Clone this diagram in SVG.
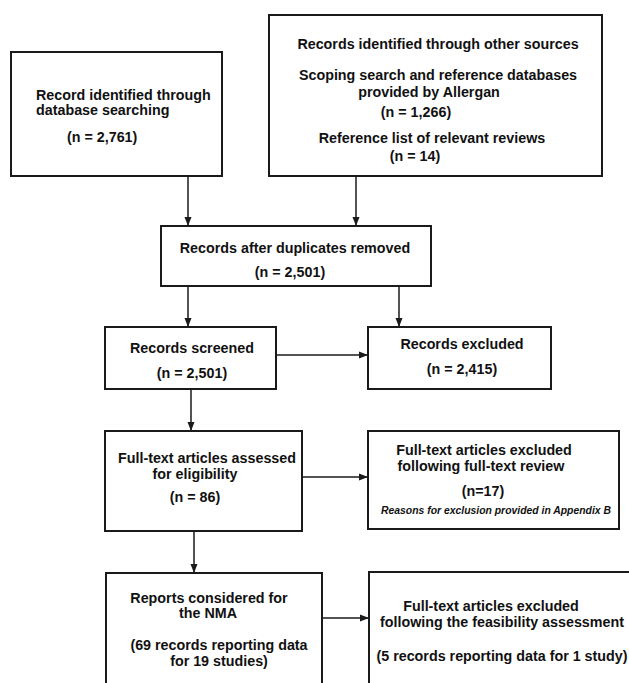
<svg xmlns="http://www.w3.org/2000/svg" width="629" height="683" viewBox="0 0 629 683">
<style>
.box{fill:#fff;stroke:#1a1a1a;stroke-width:2}
text{font-family:"Liberation Sans",Arial,sans-serif;font-size:14.3px;font-weight:bold;fill:#111}
.note{font-size:10.4px;font-style:italic}
.c{text-anchor:middle}
.ln{stroke:#1a1a1a;stroke-width:1.5;fill:none;marker-end:url(#ah)}
</style>
<defs>
<marker id="ah" markerWidth="10" markerHeight="8" refX="9" refY="4" orient="auto" markerUnits="userSpaceOnUse">
<path d="M0,0.5 L9,4 L0,7.5 Z" fill="#1a1a1a"/>
</marker>
</defs>
<rect width="629" height="683" fill="#fff"/>
<g id="connectors">
<line class="ln" x1="188" y1="176" x2="188" y2="226"/>
<line class="ln" x1="356" y1="176" x2="356" y2="226"/>
<line class="ln" x1="188" y1="286" x2="188" y2="327"/>
<line class="ln" x1="399" y1="286" x2="399" y2="327"/>
<line class="ln" x1="276" y1="355" x2="368" y2="355"/>
<line class="ln" x1="191" y1="389" x2="191" y2="431"/>
<line class="ln" x1="302" y1="477" x2="368" y2="477"/>
<line class="ln" x1="194" y1="531" x2="194" y2="573"/>
<line class="ln" x1="322" y1="618" x2="369" y2="618"/>
</g>
<g id="db">
<rect class="box" x="11" y="52" width="211" height="124"/>
<text x="36" y="100">Record identified through</text>
<text x="36" y="115">database searching</text>
<text x="67" y="142">(n = 2,761)</text>
</g>
<g id="other">
<rect class="box" x="269" y="15" width="333" height="161"/>
<text class="c" x="438" y="49">Records identified through other sources</text>
<text class="c" x="438" y="80">Scoping search and reference databases</text>
<text class="c" x="429" y="97">provided by Allergan</text>
<text class="c" x="416" y="117">(n = 1,266)</text>
<text class="c" x="432" y="143">Reference list of relevant reviews</text>
<text class="c" x="415" y="161">(n = 14)</text>
</g>
<g id="dup">
<rect class="box" x="161" y="226" width="270" height="60"/>
<text class="c" x="295" y="253">Records after duplicates removed</text>
<text class="c" x="290" y="277">(n = 2,501)</text>
</g>
<g id="screened">
<rect class="box" x="105" y="327" width="171" height="62"/>
<text class="c" x="192" y="353">Records screened</text>
<text class="c" x="192" y="378">(n = 2,501)</text>
</g>
<g id="excluded">
<rect class="box" x="368" y="327" width="183" height="62"/>
<text class="c" x="462" y="349">Records excluded</text>
<text class="c" x="462" y="374">(n = 2,415)</text>
</g>
<g id="fulltext">
<rect class="box" x="105" y="431" width="197" height="100"/>
<text class="c" x="207" y="463">Full-text articles assessed</text>
<text class="c" x="195" y="479">for eligibility</text>
<text class="c" x="195" y="502">(n = 86)</text>
</g>
<g id="ftexcluded">
<rect class="box" x="368" y="431" width="251" height="98"/>
<text class="c" x="484" y="455">Full-text articles excluded</text>
<text class="c" x="481" y="471">following full-text review</text>
<text class="c" x="483" y="496">(n=17)</text>
<text class="c note" x="496" y="514">Reasons for exclusion provided in Appendix B</text>
</g>
<g id="nma">
<rect class="box" x="106" y="573" width="216" height="130"/>
<text class="c" x="209" y="603">Reports considered for</text>
<text class="c" x="208" y="618">the NMA</text>
<text class="c" x="219" y="650">(69 records reporting data</text>
<text class="c" x="219" y="666">for 19 studies)</text>
</g>
<g id="feas">
<rect class="box" x="369" y="572" width="280" height="130"/>
<text class="c" x="491" y="611">Full-text articles excluded</text>
<text class="c" x="502" y="627">following the feasibility assessment</text>
<text class="c" x="502" y="661">(5 records reporting data for 1 study)</text>
</g>
</svg>
